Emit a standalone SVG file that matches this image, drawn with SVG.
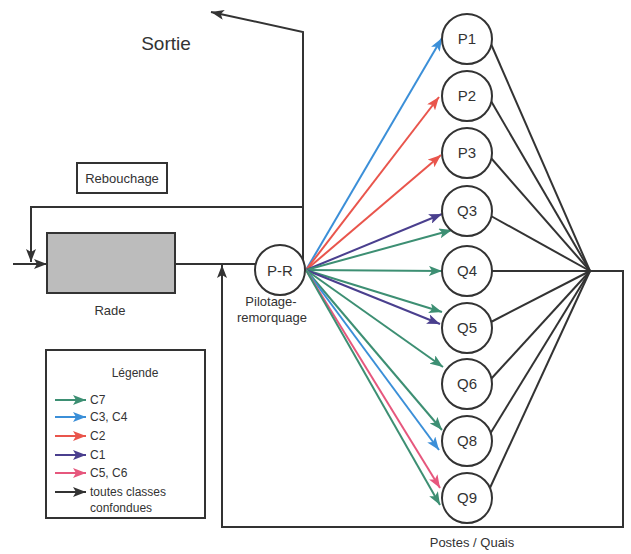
<svg xmlns="http://www.w3.org/2000/svg" width="631" height="554" viewBox="0 0 631 554">
<style>
text{font-family:"Liberation Sans",Arial,sans-serif;fill:#333}
.node{fill:#fff;stroke:#333;stroke-width:2}
.k{stroke:#333;stroke-width:2;fill:none}
.f{stroke-width:2;fill:none}
.lbl{font-size:15px;text-anchor:middle}
.sm{font-size:12px}
</style>
<defs>
<marker id="mk" markerUnits="userSpaceOnUse" markerWidth="13" markerHeight="10" refX="13" refY="5" orient="auto"><path d="M0,0 L13,5 L0,10 L3,5 z" fill="#333"/></marker>
<marker id="mg" markerUnits="userSpaceOnUse" markerWidth="13" markerHeight="10" refX="13" refY="5" orient="auto"><path d="M0,0 L13,5 L0,10 L3,5 z" fill="#3d8f73"/></marker>
<marker id="mb" markerUnits="userSpaceOnUse" markerWidth="13" markerHeight="10" refX="13" refY="5" orient="auto"><path d="M0,0 L13,5 L0,10 L3,5 z" fill="#3b8fd8"/></marker>
<marker id="mr" markerUnits="userSpaceOnUse" markerWidth="13" markerHeight="10" refX="13" refY="5" orient="auto"><path d="M0,0 L13,5 L0,10 L3,5 z" fill="#e9554c"/></marker>
<marker id="mp" markerUnits="userSpaceOnUse" markerWidth="13" markerHeight="10" refX="13" refY="5" orient="auto"><path d="M0,0 L13,5 L0,10 L3,5 z" fill="#4a3f8e"/></marker>
<marker id="mn" markerUnits="userSpaceOnUse" markerWidth="13" markerHeight="10" refX="13" refY="5" orient="auto"><path d="M0,0 L13,5 L0,10 L3,5 z" fill="#e6577d"/></marker>
</defs>
<rect width="631" height="554" fill="#fff"/>

<g id="connectors">
<!-- main flow -->
<line class="k" x1="13" y1="264" x2="47" y2="264" marker-end="url(#mk)"/>
<line class="k" x1="175" y1="264" x2="256" y2="264"/>
<polyline class="k" points="303,260 303,32 211,12" marker-end="url(#mk)"/>
<polyline class="k" points="303,207 31,207 31,262" marker-end="url(#mk)"/>
<polyline class="k" points="492,271 623,271 623,527 222,527 222,265" marker-end="url(#mk)"/>
<!-- convergence lines -->
<g class="k">
<line x1="491" y1="44" x2="590" y2="271"/>
<line x1="491" y1="101" x2="590" y2="271"/>
<line x1="491" y1="158" x2="590" y2="271"/>
<line x1="491" y1="216" x2="590" y2="271"/>
<line x1="491" y1="322" x2="590" y2="271"/>
<line x1="491" y1="379" x2="590" y2="271"/>
<line x1="490" y1="434" x2="590" y2="271"/>
<line x1="489" y1="490" x2="590" y2="271"/>
</g>
<!-- coloured flows -->
<line class="f" stroke="#3b8fd8" x1="306" y1="270" x2="442" y2="38" marker-end="url(#mb)"/>
<line class="f" stroke="#e9554c" x1="306" y1="270" x2="439" y2="97" marker-end="url(#mr)"/>
<line class="f" stroke="#e9554c" x1="306" y1="270" x2="441" y2="155" marker-end="url(#mr)"/>
<line class="f" stroke="#4a3f8e" x1="306" y1="270" x2="442" y2="214" marker-end="url(#mp)"/>
<line class="f" stroke="#3d8f73" x1="306" y1="270" x2="452" y2="230" marker-end="url(#mg)"/>
<line class="f" stroke="#3d8f73" x1="306" y1="270" x2="442" y2="271" marker-end="url(#mg)"/>
<line class="f" stroke="#3d8f73" x1="306" y1="270" x2="442" y2="312" marker-end="url(#mg)"/>
<line class="f" stroke="#4a3f8e" x1="306" y1="270" x2="440" y2="324" marker-end="url(#mp)"/>
<line class="f" stroke="#3d8f73" x1="306" y1="270" x2="443" y2="367" marker-end="url(#mg)"/>
<line class="f" stroke="#3d8f73" x1="306" y1="270" x2="442" y2="430" marker-end="url(#mg)"/>
<line class="f" stroke="#3b8fd8" x1="306" y1="270" x2="439" y2="450" marker-end="url(#mb)"/>
<line class="f" stroke="#e6577d" x1="306" y1="270" x2="440" y2="488" marker-end="url(#mn)"/>
<line class="f" stroke="#3d8f73" x1="306" y1="270" x2="440" y2="505" marker-end="url(#mg)"/>
</g>

<g id="sortie"><text x="166" y="50" font-size="19" text-anchor="middle">Sortie</text></g>
<g id="rebouchage"><rect x="77" y="163" width="90" height="30" fill="#fff" stroke="#333" stroke-width="2"/><text x="122" y="183" font-size="13" text-anchor="middle">Rebouchage</text></g>
<g id="rade"><rect x="47" y="233" width="128" height="60" fill="#bcbcbc" stroke="#333" stroke-width="2"/><text x="110" y="315" font-size="13" text-anchor="middle">Rade</text></g>
<g id="pr"><circle class="node" cx="280" cy="270" r="25"/><text class="lbl" x="280" y="276" font-size="16">P-R</text>
<text x="271" y="306" font-size="13" text-anchor="middle">Pilotage-</text><text x="272" y="322" font-size="13" text-anchor="middle">remorquage</text></g>

<g id="P1"><circle class="node" cx="467" cy="39" r="25"/><text class="lbl" x="467" y="44">P1</text></g>
<g id="P2"><circle class="node" cx="467" cy="96" r="25"/><text class="lbl" x="467" y="101">P2</text></g>
<g id="P3"><circle class="node" cx="467" cy="153" r="25"/><text class="lbl" x="467" y="158">P3</text></g>
<g id="Q3"><circle class="node" cx="467" cy="211" r="25"/><text class="lbl" x="467" y="216">Q3</text></g>
<g id="Q4"><circle class="node" cx="467" cy="271" r="25"/><text class="lbl" x="467" y="276">Q4</text></g>
<g id="Q5"><circle class="node" cx="467" cy="328" r="25"/><text class="lbl" x="467" y="333">Q5</text></g>
<g id="Q6"><circle class="node" cx="467" cy="384" r="25"/><text class="lbl" x="467" y="389">Q6</text></g>
<g id="Q8"><circle class="node" cx="467" cy="441" r="25"/><text class="lbl" x="467" y="446">Q8</text></g>
<g id="Q9"><circle class="node" cx="467" cy="498" r="25"/><text class="lbl" x="467" y="503">Q9</text></g>
<g id="postes"><text x="472" y="547" font-size="13" text-anchor="middle">Postes / Quais</text></g>

<g id="legende">
<rect x="46" y="350" width="159" height="168" fill="#fff" stroke="#333" stroke-width="2"/>
<text x="135" y="377" font-size="12" text-anchor="middle">Légende</text>
<line class="f" stroke="#3d8f73" x1="55" y1="400" x2="86" y2="400" marker-end="url(#mg)"/>
<line class="f" stroke="#3b8fd8" x1="55" y1="417" x2="86" y2="417" marker-end="url(#mb)"/>
<line class="f" stroke="#e9554c" x1="55" y1="436" x2="86" y2="436" marker-end="url(#mr)"/>
<line class="f" stroke="#4a3f8e" x1="55" y1="455" x2="86" y2="455" marker-end="url(#mp)"/>
<line class="f" stroke="#e6577d" x1="55" y1="473" x2="86" y2="473" marker-end="url(#mn)"/>
<line class="k" x1="55" y1="492" x2="86" y2="492" marker-end="url(#mk)"/>
<text class="sm" x="90" y="404">C7</text>
<text class="sm" x="90" y="421">C3, C4</text>
<text class="sm" x="90" y="440">C2</text>
<text class="sm" x="90" y="459">C1</text>
<text class="sm" x="90" y="477">C5, C6</text>
<text class="sm" x="90" y="496">toutes classes</text>
<text class="sm" x="90" y="512">confondues</text>
</g>
</svg>
